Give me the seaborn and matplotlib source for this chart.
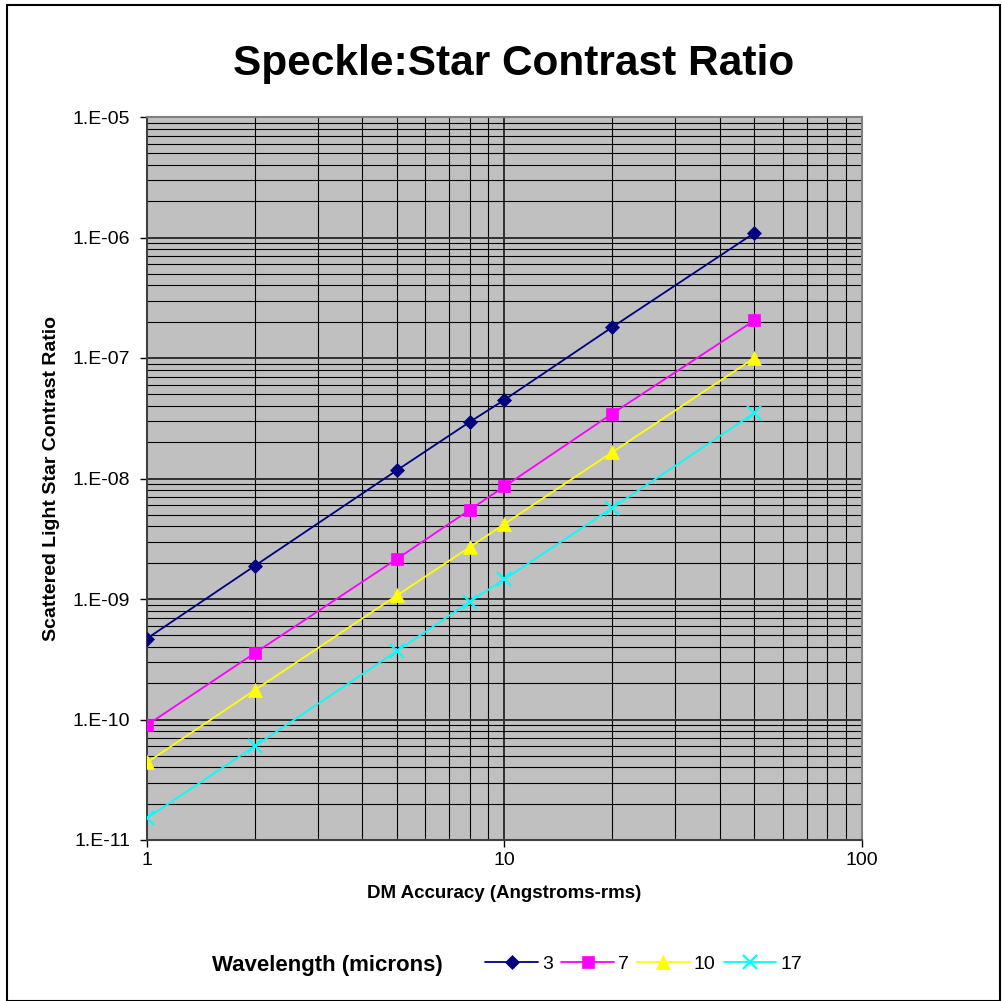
import math
import matplotlib
matplotlib.use("Agg")
import matplotlib.pyplot as plt
import matplotlib.patches as mpatches
from matplotlib.ticker import LogLocator, FuncFormatter, NullFormatter
import seaborn as sns
import pandas as pd

dm_accuracy = [1, 2, 5, 8, 10, 20, 50]
series_names = ["3", "7", "10", "17"]
ratio_3 = [4.7e-10, 1.88e-9, 1.17e-8, 2.95e-8, 4.5e-8, 1.8e-7, 1.09e-6]
ratio_7 = [9.0e-11, 3.55e-10, 2.15e-9, 5.5e-9, 8.6e-9, 3.45e-8, 2.05e-7]
ratio_10 = [4.4e-11, 1.75e-10, 1.07e-9, 2.7e-9, 4.2e-9, 1.65e-8, 1.0e-7]
ratio_17 = [1.52e-11, 6.0e-11, 3.7e-10, 9.5e-10, 1.46e-9, 5.7e-9, 3.5e-8]

colors = ["#000080", "#FF00FF", "#FFFF00", "#00FFFF"]
markers = ["D", "s", "^", "x"]
msizes = [7, 8.5, 10, 10]

sns.set_theme(style="white")
plt.rcParams["font.family"] = ["Liberation Sans", "DejaVu Sans"]
for k in ["text.color", "axes.labelcolor", "xtick.color", "ytick.color"]:
    plt.rcParams[k] = "black"

fig = plt.figure(figsize=(10.03, 10.01), dpi=100)
ax = fig.add_axes([147/1003, 1 - 840/1001, 715/1003, 723/1001])
ax.set_facecolor("#C0C0C0")

for name, vals, c, m, ms in zip(series_names, [ratio_3, ratio_7, ratio_10, ratio_17], colors, markers, msizes):
    df = pd.DataFrame({"x": dm_accuracy, "y": vals})
    sns.lineplot(data=df, x="x", y="y", ax=ax, color=c, marker=m, markersize=ms,
                 markeredgecolor=c, markeredgewidth=1.6 if m == "x" else 0.5,
                 linewidth=1.3, label=name, zorder=3)

ax.set_xscale("log")
ax.set_yscale("log")
ax.set_xlim(1, 100)
ax.set_ylim(1e-11, 1e-5)

ax.xaxis.set_major_locator(LogLocator(base=10, numticks=10))
ax.xaxis.set_minor_locator(LogLocator(base=10, subs=range(2, 10), numticks=20))
ax.yaxis.set_major_locator(LogLocator(base=10, numticks=20))
ax.yaxis.set_minor_locator(LogLocator(base=10, subs=range(2, 10), numticks=60))
ax.xaxis.set_major_formatter(FuncFormatter(lambda v, p: f"{v:g}"))
ax.yaxis.set_major_formatter(FuncFormatter(lambda v, p: "1.E%+03d" % round(math.log10(v))))
ax.xaxis.set_minor_formatter(NullFormatter())
ax.yaxis.set_minor_formatter(NullFormatter())

ax.grid(True, which="major", color="#303030", linewidth=1.4, zorder=1)
ax.grid(True, which="minor", color="black", linewidth=0.8, zorder=1)
ax.set_axisbelow(True)

ax.tick_params(axis="both", which="major", direction="out", length=5, width=1,
               color="black", labelsize=14, bottom=True, left=True)
ax.tick_params(axis="x", which="major", pad=3.3)
ax.tick_params(axis="y", which="major", pad=7.2)
ax.tick_params(axis="both", which="minor", length=0)
for side in ["left", "bottom"]:
    ax.spines[side].set_color("#404040")
    ax.spines[side].set_linewidth(1.5)
for side in ["right", "top"]:
    ax.spines[side].set_color("#808080")
    ax.spines[side].set_linewidth(1.5)

ax.set_xlabel("DM Accuracy (Angstroms-rms)", fontsize=13.5, fontweight="bold", labelpad=12)
ax.set_ylabel("Scattered Light Star Contrast Ratio", fontsize=14, fontweight="bold", labelpad=9)

fig.text(0.512, 1 - 75/1001, "Speckle:Star Contrast Ratio", ha="center", va="baseline",
         fontsize=30.5, fontweight="bold")

handles, labels = ax.get_legend_handles_labels()
ax.get_legend().remove()
fig.legend(handles, labels, loc="center left", bbox_to_anchor=(468/1003, 1 - 964/1001),
           ncol=4, frameon=False, fontsize=14, handlelength=2.7, handletextpad=0.2,
           columnspacing=0.44)
fig.text(212/1003, 1 - 965/1001, "Wavelength (microns)", ha="left", va="center",
         fontsize=16, fontweight="bold")

fig.patches.append(mpatches.Rectangle((7/1003, 0.0), 993/1003, 1 - 5/1001, fill=False,
                                      edgecolor="black", linewidth=1.5,
                                      transform=fig.transFigure, figure=fig))

fig.savefig("out.png", dpi=100)
